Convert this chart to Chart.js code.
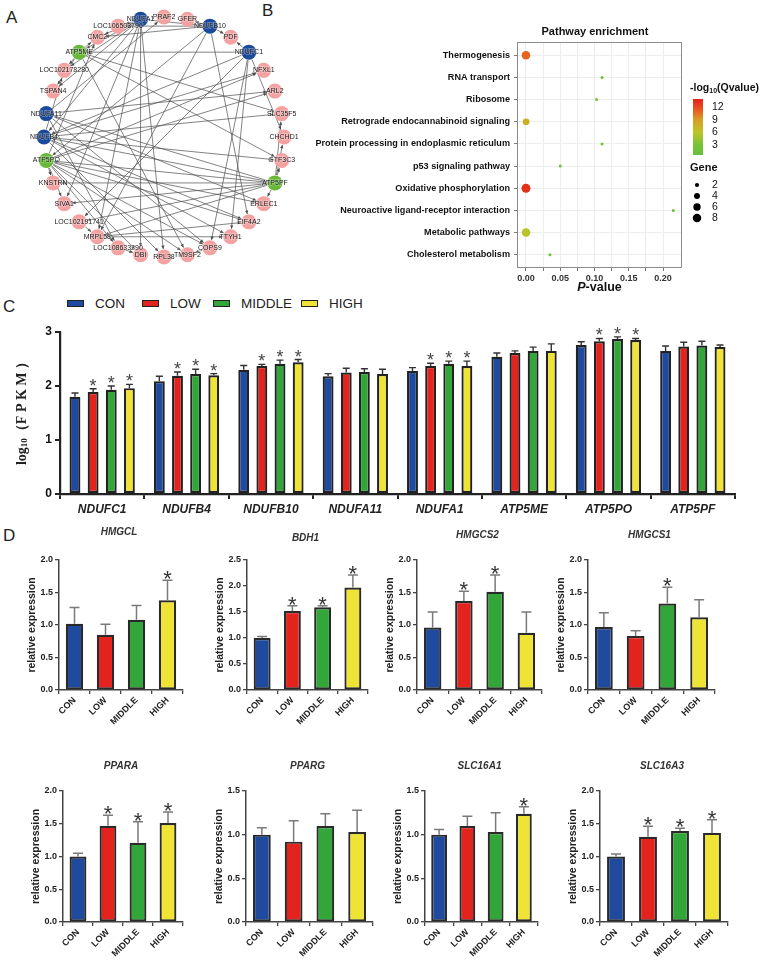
<!DOCTYPE html>
<html><head><meta charset="utf-8">
<script src="https://cdn.jsdelivr.net/npm/chart.js@4.4.1/dist/chart.umd.min.js"></script>
<style>
body{margin:0;background:#fff;width:769px;height:963px;position:relative;overflow:hidden;font-family:Arial,"Liberation Sans",sans-serif}
canvas{position:absolute}
.plab{position:absolute;font-size:17px;color:#222;line-height:1}
.leg{position:absolute;font-size:13.5px;color:#222;line-height:1}
.legbox{position:absolute;width:15px;height:5px;border:1.6px solid #222}
</style></head><body>
<div class="plab" style="left:6px;top:9px">A</div>
<div class="plab" style="left:262px;top:2px">B</div>
<div class="plab" style="left:3px;top:298px">C</div>
<div class="plab" style="left:3px;top:527px">D</div>
<div id="legC"></div>
<canvas id="cvA" width="300" height="260" style="left:14px;top:7px;width:300px;height:260px"></canvas>
<canvas id="cvB" width="509" height="300" style="left:260px;top:0px;width:509px;height:300px"></canvas>
<canvas id="cvC" width="769" height="220" style="left:0px;top:318px;width:769px;height:220px"></canvas>
<div id="dWrap"></div>
<script>
// ---------------- DATA ----------------
const groups = ['CON','LOW','MIDDLE','HIGH'];

// Panel A: interaction network
const networkNodes = ['PRAF2','GFER','NDUFB10','PDF','NDUFC1','NFXL1','ARL2','SLC35F5','CHCHD1','GTF3C3','ATP5PF','ERLEC1','EIF4A2','TTYH1','COPS9','TM9SF2','RPL38','DBI','LOC108633290','MRPL58','LOC102191741','SIVA1','KNSTRN','ATP5PO','NDUFB4','NDUFA11','TSPAN4','LOC102178280','ATP5ME','CMC2','LOC106503796','NDUFA1'];
const networkNodeClass = ['other','other','complexI','other','complexI','other','other','other','other','other','atpSynthase','other','other','other','other','other','other','other','other','other','other','other','other','atpSynthase','complexI','complexI','other','other','atpSynthase','other','other','complexI'];
const networkEdges = [
 ['NDUFA1','CMC2'],['NDUFA1','LOC106503796'],['NDUFA1','ATP5ME'],['NDUFA1','TSPAN4'],['NDUFA1','NDUFB4'],['NDUFA1','MRPL58'],['NDUFA1','RPL38'],['NDUFA1','SIVA1'],['NDUFA1','DBI'],['NDUFA1','NDUFB10'],['NDUFA1','LOC102178280'],
 ['NDUFB10','PDF'],['NDUFB10','GFER'],['NDUFB10','LOC106503796'],['NDUFB10','CMC2'],['NDUFB10','MRPL58'],['NDUFB10','EIF4A2'],['NDUFB10','ATP5PO'],
 ['NDUFC1','ATP5ME'],['NDUFC1','PDF'],['NDUFC1','CHCHD1'],['NDUFC1','NDUFB4'],['NDUFC1','TTYH1'],['NDUFC1','COPS9'],['NDUFC1','LOC102191741'],
 ['ATP5PF','ERLEC1'],['ATP5PF','GTF3C3'],['ATP5PF','CHCHD1'],['ATP5PF','SLC35F5'],['ATP5PF','NDUFB4'],['ATP5PF','KNSTRN'],['ATP5PF','ATP5PO'],['ATP5PF','LOC102191741'],['ATP5PF','MRPL58'],['ATP5PF','NDUFA11'],['ATP5PF','SIVA1'],
 ['ATP5PO','ARL2'],['ATP5PO','NFXL1'],['ATP5PO','TM9SF2'],['ATP5PO','DBI'],['ATP5PO','LOC108633290'],['ATP5PO','EIF4A2'],['ATP5PO','ERLEC1'],['ATP5PO','COPS9'],['ATP5PO','CMC2'],['ATP5PO','SIVA1'],['ATP5PO','KNSTRN'],
 ['NDUFB4','NFXL1'],['NDUFB4','SLC35F5'],['NDUFB4','GTF3C3'],['NDUFB4','EIF4A2'],['NDUFB4','RPL38'],['NDUFB4','TTYH1'],['NDUFB4','LOC102178280'],
 ['NDUFA11','ARL2'],['NDUFA11','ERLEC1'],['NDUFA11','LOC108633290'],['NDUFA11','COPS9'],['NDUFA11','PRAF2'],
 ['ATP5ME','CMC2'],['ATP5ME','LOC102178280'],['ATP5ME','TSPAN4'],['ATP5ME','SLC35F5'],['ATP5ME','GTF3C3'],['ATP5ME','TM9SF2'],
 ['MRPL58','EIF4A2'],['MRPL58','TTYH1'],['COPS9','TM9SF2'],['LOC108633290','DBI'],['LOC102191741','MRPL58']
];

// Panel B: pathway enrichment
const pathwayNames = ['Thermogenesis','RNA transport','Ribosome','Retrograde endocannabinoid signaling','Protein processing in endoplasmic reticulum','p53 signaling pathway','Oxidative phosphorylation','Neuroactive ligand-receptor interaction','Metabolic pathways','Cholesterol metabolism'];
const pathwayPValue = [0.0000, 0.111, 0.103, 0.0002, 0.111, 0.050, 0.0000, 0.215, 0.0001, 0.035];
const pathwayNegLogQ = [11.0, 1.5, 1.5, 8.0, 1.5, 1.5, 13.2, 1.3, 5.8, 1.6];
const pathwayGeneCount = [8, 1, 1, 5, 1, 1, 9, 1, 8, 1];
const pathwayPTicks = [0, 0.05, 0.10, 0.15, 0.20];
const qLegendTicks = [12, 9, 6, 3];
const geneLegendTicks = [2, 4, 6, 8];

// Panel C: log10(FPKM)
const fpkmGenes = ['NDUFC1','NDUFB4','NDUFB10','NDUFA11','NDUFA1','ATP5ME','ATP5PO','ATP5PF'];
const fpkmCON    = [1.80, 2.09, 2.30, 2.18, 2.28, 2.54, 2.76, 2.65];
const fpkmLOW    = [1.89, 2.19, 2.37, 2.25, 2.37, 2.61, 2.83, 2.73];
const fpkmMIDDLE = [1.93, 2.22, 2.41, 2.26, 2.41, 2.65, 2.87, 2.75];
const fpkmHIGH   = [1.96, 2.20, 2.44, 2.22, 2.37, 2.65, 2.85, 2.72];
const fpkmErrCON    = [0.07, 0.09, 0.08, 0.05, 0.06, 0.07, 0.06, 0.09];
const fpkmErrLOW    = [0.06, 0.07, 0.03, 0.08, 0.05, 0.04, 0.05, 0.08];
const fpkmErrMIDDLE = [0.07, 0.09, 0.07, 0.06, 0.05, 0.07, 0.04, 0.08];
const fpkmErrHIGH   = [0.07, 0.03, 0.05, 0.09, 0.09, 0.13, 0.03, 0.04];
const fpkmSigLOW    = [1,1,1,0,1,0,1,0];
const fpkmSigMIDDLE = [1,1,1,0,1,0,1,0];
const fpkmSigHIGH   = [1,1,1,0,1,0,1,0];
const fpkmSigCON    = [0,0,0,0,0,0,0,0];
const fpkmTicks = [0,1,2,3];

// Panel D: qPCR relative expression (order: CON, LOW, MIDDLE, HIGH)
const qpcrGenes = ['HMGCL','BDH1','HMGCS2','HMGCS1','PPARA','PPARG','SLC16A1','SLC16A3'];
const qpcrMean = [
 [1.02, 0.85, 1.08, 1.38],
 [1.00, 1.52, 1.59, 1.97],
 [0.96, 1.37, 1.51, 0.88],
 [0.97, 0.83, 1.33, 1.12],
 [1.00, 1.47, 1.21, 1.51],
 [1.00, 0.92, 1.10, 1.03],
 [1.00, 1.10, 1.03, 1.24],
 [1.00, 1.30, 1.39, 1.36]
];
const qpcrErr = [
 [0.25, 0.16, 0.22, 0.31],
 [0.03, 0.10, 0.03, 0.24],
 [0.24, 0.15, 0.26, 0.32],
 [0.22, 0.08, 0.25, 0.27],
 [0.05, 0.16, 0.32, 0.17],
 [0.08, 0.24, 0.14, 0.25],
 [0.06, 0.11, 0.22, 0.08],
 [0.04, 0.16, 0.04, 0.20]
];
const qpcrSig = [
 [0,0,0,1],[0,1,1,1],[0,1,1,0],[0,0,1,0],
 [0,1,1,1],[0,0,0,0],[0,0,0,1],[0,1,1,1]
];
const qpcrYMax = [2.0, 2.5, 2.0, 2.0, 2.0, 1.5, 1.5, 2.0];

// ---------------- STYLE ----------------
const FONT = 'Arial, "Liberation Sans", sans-serif';
Chart.defaults.font.family = FONT;
Chart.defaults.animation = false;
const groupColors = ['#1f4a9e','#e3231e','#33a639','#efe436'];
const nodeColors = {other:'#f3a1a1', complexI:'#1b4a9b', atpSynthase:'#68b93a'};

// shared error-bar + star plugin
const errorBars = {
  id:'errorBars',
  afterDatasetsDraw(chart, args, o){
    const ctx = chart.ctx, y = chart.scales.y;
    chart.data.datasets.forEach((ds, di)=>{
      if(!ds.err) return;
      const meta = chart.getDatasetMeta(di);
      meta.data.forEach((bar, i)=>{
        const v = ds.data[i], e = ds.err[i];
        const yTop = y.getPixelForValue(v + e), yBar = y.getPixelForValue(v);
        const half = o.cap;
        ctx.save();
        ctx.strokeStyle = o.color; ctx.lineWidth = o.width;
        ctx.beginPath();
        ctx.moveTo(bar.x, yBar); ctx.lineTo(bar.x, yTop);
        ctx.moveTo(bar.x - half, yTop); ctx.lineTo(bar.x + half, yTop);
        ctx.stroke();
        if(ds.sig && ds.sig[i]){
          ctx.fillStyle = o.starColor; ctx.font = o.starFont;
          ctx.textAlign = 'center'; ctx.textBaseline = 'alphabetic';
          ctx.fillText('*', bar.x, yTop + o.starOffset);
        }
        ctx.restore();
      });
    });
  }
};

// ---------------- PANEL A ----------------
(function(){
  const n = networkNodes.length;
  const pts = networkNodes.map((name, i)=>{
    const t = i * 2 * Math.PI / n;
    return {x: Math.sin(t), y: Math.cos(t)};
  });
  const netPlugin = {
    id:'net',
    beforeDatasetsDraw(chart){
      const P = chart.getDatasetMeta(0).data, ctx = chart.ctx;
      ctx.save();
      ctx.strokeStyle = '#4d4d4d'; ctx.fillStyle = '#4d4d4d'; ctx.lineWidth = 0.7;
      networkEdges.forEach(([a,b])=>{
        const p = P[networkNodes.indexOf(a)], q = P[networkNodes.indexOf(b)];
        const dx = q.x - p.x, dy = q.y - p.y, L = Math.hypot(dx, dy), ux = dx/L, uy = dy/L;
        const r = 8;
        const x1 = p.x + ux*r, y1 = p.y + uy*r, x2 = q.x - ux*r, y2 = q.y - uy*r;
        ctx.beginPath(); ctx.moveTo(x1,y1); ctx.lineTo(x2,y2); ctx.stroke();
        ctx.beginPath();
        ctx.moveTo(x2, y2);
        ctx.lineTo(x2 - ux*3.5 - uy*1.6, y2 - uy*3.5 + ux*1.6);
        ctx.lineTo(x2 - ux*3.5 + uy*1.6, y2 - uy*3.5 - ux*1.6);
        ctx.closePath(); ctx.fill();
      });
      ctx.restore();
    },
    afterDatasetsDraw(chart){
      const P = chart.getDatasetMeta(0).data, ctx = chart.ctx;
      ctx.save();
      ctx.font = '7px ' + FONT; ctx.textAlign = 'center'; ctx.textBaseline = 'middle';
      networkNodes.forEach((name, i)=>{
        ctx.lineWidth = 1.5; ctx.strokeStyle = 'rgba(255,255,255,0.35)';
        ctx.strokeText(name, P[i].x, P[i].y);
        ctx.fillStyle = '#1a1a1a';
        ctx.fillText(name, P[i].x, P[i].y);
      });
      ctx.restore();
    }
  };
  new Chart(document.getElementById('cvA'), {
    type:'scatter',
    data:{datasets:[{data:pts, pointRadius:7.5, pointBorderWidth:0, clip:false,
      pointBackgroundColor: networkNodeClass.map(c=>nodeColors[c])}]},
    options:{responsive:false, devicePixelRatio:1, layout:{padding:0, autoPadding:false},
      plugins:{legend:{display:false}, tooltip:{enabled:false}},
      scales:{x:{display:false, min:-1.25, max:1.25}, y:{display:false, min:-1.0833, max:1.0833}}},
    plugins:[netPlugin]
  });
})();

// ---------------- PANEL B ----------------
(function(){
  const stops = [[0.6,[104,190,58]],[3,[120,195,55]],[6,[190,196,40]],[9,[214,160,36]],[11,[232,98,30]],[13.9,[228,32,28]]];
  function qColor(q){
    if(q <= stops[0][0]) return 'rgb('+stops[0][1].join(',')+')';
    for(let k=1;k<stops.length;k++){
      if(q <= stops[k][0]){
        const [a,ca]=stops[k-1],[b,cb]=stops[k], t=(q-a)/(b-a);
        return 'rgb('+ca.map((c,j)=>Math.round(c+(cb[j]-c)*t)).join(',')+')';
      }
    }
    return 'rgb('+stops[stops.length-1][1].join(',')+')';
  }
  const geneR = g => 1.5*Math.sqrt(g);
  const deco = {
    id:'decoB',
    afterDraw(chart){
      const ctx = chart.ctx, a = chart.chartArea;
      ctx.save();
      ctx.strokeStyle = '#8c8c8c'; ctx.lineWidth = 1;
      ctx.strokeRect(a.left+0.5, a.top+0.5, a.right-a.left-1, a.bottom-a.top-1);
      ctx.fillStyle = '#111'; ctx.textAlign='center'; ctx.textBaseline='middle';
      ctx.font = 'bold 11px ' + FONT;
      ctx.fillText('Pathway enrichment', 335, 32);
      // x title
      ctx.font = 'bold italic 12.5px ' + FONT;
      const w1 = ctx.measureText('P').width;
      ctx.font = 'bold 12.5px ' + FONT;
      const w2 = ctx.measureText('-value').width;
      const cx = (a.left + a.right)/2, x0 = cx - (w1+w2)/2;
      ctx.textAlign='left';
      ctx.font = 'bold italic 12.5px ' + FONT; ctx.fillText('P', x0, 288);
      ctx.font = 'bold 12.5px ' + FONT; ctx.fillText('-value', x0 + w1, 288);
      // color legend
      ctx.font = 'bold 10.5px ' + FONT; ctx.textAlign='left';
      const lx = 430;
      ctx.fillText('-log', lx, 88);
      let wl = ctx.measureText('-log').width;
      ctx.font = 'bold 7px ' + FONT; ctx.fillText('10', lx + wl, 91);
      let ws = ctx.measureText('10').width;
      ctx.font = 'bold 10.5px ' + FONT; ctx.fillText('(Qvalue)', lx + wl + ws, 88);
      const gTop = 99, gBot = 155, qTop = 13.9, qBot = 0.63;
      const grad = ctx.createLinearGradient(0, gTop, 0, gBot);
      for(let k=0;k<=20;k++){ const q = qTop - (qTop-qBot)*k/20; grad.addColorStop(k/20, qColor(q)); }
      ctx.fillStyle = grad; ctx.fillRect(433, gTop, 10, gBot-gTop);
      ctx.fillStyle = '#111'; ctx.font = '10.5px ' + FONT;
      qLegendTicks.forEach(q=>{
        const yy = gTop + (qTop - q)/(qTop - qBot)*(gBot-gTop);
        ctx.fillText(String(q), 452, yy);
      });
      ctx.font = 'bold 11px ' + FONT; ctx.fillText('Gene', 430, 168);
      geneLegendTicks.forEach((g,k)=>{
        const yy = 185 + k*11;
        ctx.fillStyle = '#000'; ctx.beginPath(); ctx.arc(437, yy, geneR(g), 0, 2*Math.PI); ctx.fill();
        ctx.fillStyle = '#111'; ctx.font = '10.5px ' + FONT; ctx.fillText(String(g), 452, yy);
      });
      ctx.restore();
    }
  };
  new Chart(document.getElementById('cvB'), {
    type:'bubble',
    data:{datasets:[{
      data: pathwayNames.map((nm,i)=>({x:pathwayPValue[i], y:i, r:geneR(pathwayGeneCount[i])})),
      backgroundColor: pathwayNegLogQ.map(qColor), borderWidth:0
    }]},
    options:{responsive:false, devicePixelRatio:1,
      layout:{padding:{top:42, right:87, left:0, bottom:0}},
      plugins:{legend:{display:false}, tooltip:{enabled:false}},
      scales:{
        x:{type:'linear', min:-0.0131, max:0.2277,
          afterBuildTicks(s){ const t=[]; pathwayPTicks.forEach(v=>{t.push({value:v}); if(v<0.2) t.push({value:v+0.025});}); s.ticks=t; },
          ticks:{callback:(v)=> pathwayPTicks.some(p=>Math.abs(p-v)<1e-9) ? v.toFixed(2) : '', font:{size:9, weight:'bold'}, color:'#333', padding:2, maxRotation:0, autoSkip:false},
          grid:{color:'#ededed', tickLength:3, tickColor:'#777'}, border:{display:false},
          afterFit(s){ s.height = 32; }},
        y:{type:'linear', reverse:true, min:-0.6, max:9.6,
          afterBuildTicks(s){ s.ticks = pathwayNames.map((nm,i)=>({value:i})); },
          ticks:{callback:(v)=> pathwayNames[v] || '', font:{size:9.1, weight:'bold'}, color:'#111', padding:4, autoSkip:false},
          grid:{color:'#ededed', tickLength:3, tickColor:'#777'}, border:{display:false},
          afterFit(s){ s.width = 257; }}
      }},
    plugins:[deco]
  });
})();

// ---------------- PANEL C ----------------
(function(){
  // legend
  const legX = [67, 142, 213, 301];
  const leg = document.getElementById('legC');
  groups.forEach((g,i)=>{
    const b = document.createElement('div'); b.className='legbox';
    b.style.left = legX[i]+'px'; b.style.top='300px'; b.style.background = groupColors[i];
    leg.appendChild(b);
    const t = document.createElement('div'); t.className='leg'; t.textContent = g;
    t.style.left = (legX[i]+28)+'px'; t.style.top = '297px';
    leg.appendChild(t);
  });
  const means = [fpkmCON, fpkmLOW, fpkmMIDDLE, fpkmHIGH];
  const errs = [fpkmErrCON, fpkmErrLOW, fpkmErrMIDDLE, fpkmErrHIGH];
  const sigs = [fpkmSigCON, fpkmSigLOW, fpkmSigMIDDLE, fpkmSigHIGH];
  const ytitle = {
    id:'ytitleC',
    afterDraw(chart){
      const ctx = chart.ctx, a = chart.chartArea;
      ctx.save();
      ctx.translate(22, (a.top + a.bottom)/2 - 3);
      ctx.rotate(-Math.PI/2);
      ctx.fillStyle = '#222'; ctx.textBaseline='middle'; ctx.textAlign='left';
      const f1 = 'bold 14px "Liberation Serif", "DejaVu Serif", serif';
      const f2 = 'bold 9px "Liberation Serif", "DejaVu Serif", serif';
      const parts = [['log',f1,0],['10',f2,3],['（F P K M ）',f1,0]];
      let w = 0;
      parts.forEach(p=>{ ctx.font = p[1]; w += ctx.measureText(p[0]).width; });
      let x = -w/2;
      parts.forEach(p=>{ ctx.font = p[1]; ctx.fillText(p[0], x, p[2]); x += ctx.measureText(p[0]).width; });
      ctx.restore();
    }
  };
  new Chart(document.getElementById('cvC'), {
    type:'bar',
    data:{labels: fpkmGenes, datasets: groups.map((g,i)=>({
      label:g, data:means[i], err:errs[i], sig:sigs[i],
      backgroundColor: groupColors[i], borderColor:'#222', borderWidth:2.2, borderSkipped:false,
      barPercentage:0.6, categoryPercentage:0.86
    }))},
    options:{responsive:false, devicePixelRatio:1,
      layout:{padding:{top:14, right:34, left:0, bottom:0}},
      plugins:{legend:{display:false}, tooltip:{enabled:false},
        errorBars:{color:'#333', width:1.4, cap:3.5, starColor:'#444', starFont:'18px '+FONT, starOffset:3}},
      scales:{
        x:{grid:{display:true, drawOnChartArea:false, tickLength:5, color:'#222', lineWidth:2},
          border:{color:'#222', width:2.2},
          ticks:{font:{size:12, weight:'bold', style:'italic'}, color:'#222', padding:3, maxRotation:0},
          afterFit(s){ s.height = 44; }},
        y:{min:0, max:3, afterBuildTicks(s){ s.ticks = fpkmTicks.map(v=>({value:v})); },
          ticks:{font:{size:12, weight:'bold'}, color:'#111', padding:3},
          grid:{display:true, drawOnChartArea:false, tickLength:5, color:'#222', lineWidth:2},
          border:{color:'#222', width:2.2},
          afterFit(s){ s.width = 60; }}
      }},
    plugins:[errorBars, ytitle]
  });
})();

// ---------------- PANEL D ----------------
(function(){
  const dLayout = [
    {left:0,   top:520, w:195, h:215, yW:59, padT:40, padR:12, titleY:12},
    {left:190, top:520, w:190, h:215, yW:57, padT:40, padR:12, titleY:18},
    {left:360, top:520, w:195, h:215, yW:57, padT:40, padR:13, titleY:15},
    {left:530, top:520, w:200, h:215, yW:58, padT:40, padR:15, titleY:15},
    {left:0,   top:750, w:195, h:217, yW:63, padT:41, padR:12, titleY:16},
    {left:190, top:750, w:195, h:217, yW:56, padT:41, padR:12, titleY:16},
    {left:365, top:750, w:185, h:217, yW:60, padT:41, padR:12, titleY:16},
    {left:540, top:750, w:200, h:217, yW:60, padT:41, padR:12, titleY:16}
  ];
  const wrap = document.getElementById('dWrap');
  qpcrGenes.forEach((gene, gi)=>{
    const L = dLayout[gi];
    const cv = document.createElement('canvas');
    cv.width = L.w; cv.height = L.h;
    cv.style.left = L.left+'px'; cv.style.top = L.top+'px';
    cv.style.width = L.w+'px'; cv.style.height = L.h+'px';
    wrap.appendChild(cv);
    const texts = {
      id:'textsD',
      afterDraw(chart){
        const ctx = chart.ctx, a = chart.chartArea;
        ctx.save();
        ctx.fillStyle = '#333'; ctx.textAlign='center'; ctx.textBaseline='middle';
        ctx.font = 'bold italic 10px ' + FONT;
        ctx.fillText(gene, (a.left + a.right)/2 - 2, L.titleY);
        ctx.translate(a.left - 27, (a.top + a.bottom)/2);
        ctx.rotate(-Math.PI/2);
        ctx.font = 'bold 10.5px ' + FONT; ctx.fillStyle = '#222';
        ctx.fillText('relative expression', 0, 0);
        ctx.restore();
      }
    };
    const yMax = qpcrYMax[gi];
    new Chart(cv, {
      type:'bar',
      data:{labels: groups, datasets:[{data: qpcrMean[gi], err: qpcrErr[gi], sig: qpcrSig[gi],
        backgroundColor: groupColors, borderColor:'#2a2a2a', borderWidth:2.2, borderSkipped:false,
        barPercentage:0.56, categoryPercentage:1}]},
      options:{responsive:false, devicePixelRatio:1,
        layout:{padding:{top:L.padT, right:L.padR, left:0, bottom:0}},
        plugins:{legend:{display:false}, tooltip:{enabled:false},
          errorBars:{color:'#7a7a7a', width:1.5, cap:5, starColor:'#333', starFont:'22px '+FONT, starOffset:6}},
        scales:{
          x:{grid:{display:true, drawOnChartArea:false, tickLength:4, color:'#444', lineWidth:1.3},
            border:{color:'#444', width:1.5},
            ticks:{font:{size:9, weight:'bold'}, color:'#222', padding:1, minRotation:45, maxRotation:45, autoSkip:false},
            afterFit(s){ s.height = 45; }},
          y:{min:0, max:yMax,
            afterBuildTicks(s){ const t=[]; for(let v=0; v<=yMax+1e-9; v+=0.5) t.push({value:Math.round(v*10)/10}); s.ticks=t; },
            ticks:{callback:v=>Number(v).toFixed(1), font:{size:9, weight:'bold'}, color:'#222', padding:2},
            grid:{display:true, drawOnChartArea:false, tickLength:4, color:'#444', lineWidth:1.3},
            border:{color:'#444', width:1.5},
            afterFit(s){ s.width = L.yW; }}
        }},
      plugins:[errorBars, texts]
    });
  });
})();
</script>
</body></html>
